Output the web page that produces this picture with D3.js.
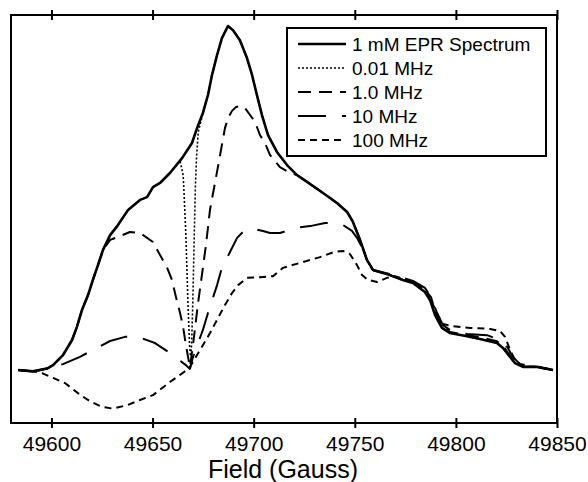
<!DOCTYPE html>
<html>
<head>
<meta charset="utf-8">
<script src="https://cdn.jsdelivr.net/npm/d3@7"></script>
<style>
  body { margin: 0; background: #fff; }
  text { font-family: "Liberation Sans", Arial, Helvetica, sans-serif; fill: #000; }
</style>
</head>
<body>
<svg id="chart" width="588" height="482"></svg>
<script>
// field ticks (Gauss)
const fieldTicks = [49600, 49650, 49700, 49750, 49800, 49850]

const seriesNames = ["1 mM EPR Spectrum", "0.01 MHz", "1.0 MHz", "10 MHz", "100 MHz"]

// [field (G), signal (arb. units)]
const spectrum1mM = [[49583.5,0.3],[49590.9,-0.1],[49597.8,0.7],[49600.8,1.7],[49605.7,4.6],[49610.2,9.0],[49612.6,12.8],[49615.1,17.7],[49618.1,22.0],[49620.5,26.4],[49623.0,30.7],[49625.5,35.1],[49629.0,39.4],[49632.9,42.3],[49637.9,46.7],[49643.8,49.6],[49647.3,50.4],[49650.2,53.3],[49653.7,54.5],[49658.6,57.4],[49664.6,61.7],[49669.5,66.1],[49672.0,70.4],[49674.9,74.8],[49677.4,80.0],[49679.4,85.8],[49681.9,91.6],[49684.3,96.5],[49687.3,100],[49689.8,98.8],[49693.2,95.9],[49696.7,90.7],[49699.2,85.8],[49701.6,80.0],[49704.1,74.2],[49707.1,68.4],[49711.5,63.5],[49716.5,59.7],[49721.4,56.8],[49726.4,54.8],[49734.3,51.6],[49741.2,48.7],[49746.2,46.1],[49749.1,43.2],[49752.6,38.0],[49756.0,32.2],[49759.0,29.3],[49767.4,27.8],[49773.8,26.4],[49778.8,25.5],[49784.7,22.9],[49787.2,20.6],[49789.7,16.2],[49793.1,12.5],[49797.1,11.0],[49805.5,10.1],[49811.9,9.3],[49820.3,8.1],[49823.3,6.7],[49826.8,4.1],[49829.2,2.3],[49833.2,1.2],[49840.1,1.2],[49848.0,0.3]]

const mod001 = [[49583.5,0.3],[49590.9,-0.1],[49597.8,0.7],[49600.8,1.7],[49605.7,4.6],[49610.2,9.0],[49612.6,12.8],[49615.1,17.7],[49618.1,22.0],[49620.5,26.4],[49623.0,30.7],[49625.5,35.1],[49629.0,39.4],[49632.9,42.3],[49637.9,46.7],[49643.8,49.6],[49647.3,50.4],[49650.2,53.3],[49653.7,54.5],[49658.6,57.4],[49663.6,60.9],[49665.1,56.8],[49665.5,52.5],[49666.5,39.1],[49667.5,19.7],[49668.3,7.5],[49668.8,4.3],[49669.3,7.5],[49669.9,19.7],[49670.6,38.8],[49671.2,53.9],[49671.8,62.6],[49672.6,69.3],[49674.9,74.8],[49677.4,80.0],[49679.4,85.8],[49681.9,91.6],[49684.3,96.5],[49687.3,100],[49689.8,98.8],[49693.2,95.9],[49696.7,90.7],[49699.2,85.8],[49701.6,80.0],[49704.1,74.2],[49707.1,68.4],[49711.5,63.5],[49716.5,59.7],[49721.4,56.8],[49726.4,54.8],[49734.3,51.6],[49741.2,48.7],[49746.2,46.1],[49749.1,43.2],[49752.6,38.0],[49756.0,32.2],[49759.0,29.3],[49767.4,27.8],[49773.8,26.4],[49778.8,25.5],[49784.7,22.9],[49787.2,20.6],[49789.7,16.2],[49793.1,12.5],[49797.1,11.0],[49805.5,10.1],[49811.9,9.3],[49820.3,8.1],[49823.3,6.7],[49826.8,4.1],[49829.2,2.3],[49833.2,1.2],[49840.1,1.2],[49848.0,0.3]]

const mod1 = [[49583.5,0.3],[49590.9,-0.1],[49597.8,0.7],[49600.8,1.7],[49605.7,4.6],[49610.2,9.0],[49612.6,12.8],[49615.1,17.7],[49618.1,22.0],[49620.5,26.4],[49623.0,30.7],[49625.5,35.1],[49629.0,38.0],[49633.9,39.1],[49638.8,40.3],[49643.8,40.0],[49650.2,37.4],[49653.7,33.6],[49657.1,30.1],[49659.6,26.4],[49661.6,21.4],[49663.6,16.8],[49665.1,12.8],[49666.5,7.5],[49668.0,2.6],[49668.5,1.2],[49670.0,7.5],[49672.5,19.7],[49674.9,29.9],[49676.4,36.5],[49678.4,46.7],[49681.4,56.2],[49683.4,62.6],[49685.8,70.4],[49687.3,73.3],[49689.3,75.4],[49691.3,76.5],[49693.2,76.8],[49695.7,76.2],[49698.2,74.2],[49700.7,72.2],[49703.1,68.4],[49705.6,66.1],[49708.1,62.6],[49713.0,59.1],[49718.0,57.4],[49721.4,56.8],[49726.4,54.8],[49734.3,51.6],[49741.2,48.7],[49746.2,46.1],[49749.1,43.2],[49752.6,38.0],[49756.0,32.2],[49759.0,29.3],[49767.4,27.8],[49773.8,26.4],[49778.8,25.8],[49784.7,23.5],[49787.7,21.4],[49790.2,16.5],[49793.6,12.9],[49797.1,11.3],[49805.5,10.4],[49811.9,9.8],[49820.3,8.6],[49823.8,6.9],[49827.2,4.1],[49829.7,2.3],[49833.2,1.2],[49840.1,1.2],[49848.0,0.3]]

const mod10 = [[49583.5,0.3],[49590.9,-0.1],[49597.8,0.7],[49605.7,2.0],[49614.1,4.1],[49620.5,6.1],[49629.0,8.7],[49636.4,9.9],[49642.8,9.9],[49651.2,8.1],[49658.6,5.2],[49666.5,1.7],[49668.5,0.6],[49670.0,4.1],[49674.9,11.9],[49677.4,16.8],[49681.9,24.9],[49684.3,29.9],[49688.3,34.5],[49691.8,38.6],[49694.7,40.3],[49698.2,41.4],[49704.6,40.6],[49708.1,40.0],[49713.0,40.0],[49718.0,40.9],[49722.9,41.7],[49727.9,42.0],[49735.3,42.9],[49740.2,42.9],[49744.2,42.3],[49748.6,40.6],[49751.1,38.6],[49753.6,35.9],[49756.0,32.2],[49759.0,29.3],[49767.4,28.1],[49773.8,27.0],[49778.8,26.1],[49784.7,24.1],[49787.7,21.4],[49790.7,16.8],[49793.6,13.3],[49797.1,11.9],[49805.5,10.7],[49815.4,10.4],[49821.8,9.0],[49825.3,7.0],[49828.2,4.1],[49831.7,2.0],[49840.1,1.2],[49848.0,0.3]]

const mod100 = [[49583.5,0.3],[49590.9,-0.1],[49595.3,-0.6],[49600.8,-2.0],[49606.7,-3.5],[49613.1,-6.4],[49619.1,-8.8],[49625.0,-10.4],[49630.4,-10.9],[49637.4,-9.9],[49643.8,-8.4],[49650.2,-7.0],[49658.6,-3.2],[49667.0,0.3],[49668.5,1.2],[49673.5,6.1],[49678.4,11.0],[49682.4,15.4],[49685.8,19.1],[49689.3,22.6],[49692.3,24.9],[49696.7,27.0],[49703.1,27.2],[49709.6,27.5],[49714.5,29.9],[49724.4,31.6],[49732.8,33.0],[49739.7,34.5],[49744.2,34.8],[49747.6,33.9],[49751.1,30.7],[49753.6,27.8],[49756.5,26.4],[49761.0,25.8],[49765.9,27.0],[49769.9,27.5],[49773.8,26.7],[49778.8,25.8],[49784.7,23.5],[49787.7,20.6],[49790.7,16.5],[49793.6,13.6],[49798.6,13.0],[49807.0,12.5],[49816.9,12.2],[49821.8,11.6],[49824.3,9.9],[49826.8,6.1],[49829.2,3.2],[49833.2,1.4],[49840.1,1.2],[49848.0,0.3]]

const allSeries = [spectrum1mM, mod001, mod1, mod10, mod100]
const dashes = ["none", "2,2", "13,8", "28,16", "7,5"]
const widths = [2.6, 1.6, 2, 2, 2]

const svg = d3.select("#chart")

const x = d3.scaleLinear().domain([49580, 49850]).range([11, 557])
const y = d3.scaleLinear().domain([-15.07, 103.19]).range([423, 15])

const line = d3.line()
  .x(d => x(d[0]))
  .y(d => y(d[1]))

// bottom axis with crossing ticks
let xAxis = svg.append("g")
  .attr("transform", "translate(0,423)")
  .call(d3.axisBottom(x).tickValues(fieldTicks).tickFormat(d3.format("d")).tickSizeOuter(0).tickPadding(7))
xAxis.select(".domain").remove()
xAxis.selectAll(".tick line").attr("y1", -5).attr("y2", 5).attr("stroke", "#000").attr("stroke-width", 2)
xAxis.selectAll(".tick text").style("font-size", "21px").attr("fill", "#000")

let topAxis = svg.append("g")
  .attr("transform", "translate(0,15)")
  .call(d3.axisTop(x).tickValues(fieldTicks).tickFormat("").tickSizeOuter(0))
topAxis.select(".domain").remove()
topAxis.selectAll(".tick line").attr("y1", -5).attr("y2", 5).attr("stroke", "#000").attr("stroke-width", 2)

// curves, solid spectrum on top
for (let i = allSeries.length - 1; i >= 0; i--) {
  svg.append("path")
    .datum(allSeries[i])
    .attr("d", line)
    .attr("fill", "none")
    .attr("stroke", "#000")
    .attr("stroke-width", widths[i])
    .attr("stroke-dasharray", dashes[i])
    .attr("stroke-linejoin", "round")
}

// frame
svg.append("rect")
  .attr("x", 11).attr("y", 15)
  .attr("width", 546).attr("height", 408)
  .attr("fill", "none")
  .attr("stroke", "#000")
  .attr("stroke-width", 2)

// legend
let legend = svg.append("g")
legend.append("rect")
  .attr("x", 287).attr("y", 28)
  .attr("width", 259).attr("height", 128)
  .attr("fill", "#fff")
  .attr("stroke", "#000")
  .attr("stroke-width", 2)

seriesNames.forEach((name, i) => {
  let cy = 44 + i * 24
  legend.append("line")
    .attr("x1", 298).attr("x2", 346)
    .attr("y1", cy).attr("y2", cy)
    .attr("stroke", "#000")
    .attr("stroke-width", widths[i])
    .attr("stroke-dasharray", dashes[i])
  legend.append("text")
    .attr("x", 352).attr("y", cy)
    .attr("dy", "0.36em")
    .style("font-size", "19px")
    .text(name)
})

svg.append("text")
  .attr("x", 283).attr("y", 478)
  .attr("text-anchor", "middle")
  .style("font-size", "25px")
  .text("Field (Gauss)")
</script>
</body>
</html>
